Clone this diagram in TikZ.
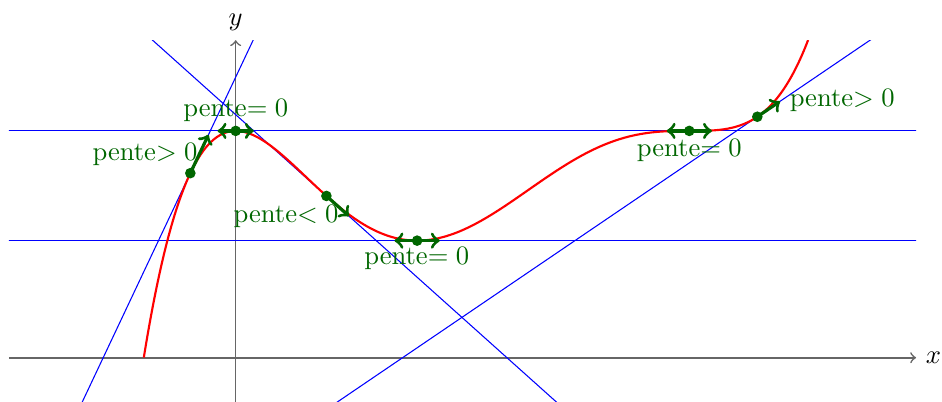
\documentclass[tikz,border=0pt]{standalone}
\usetikzlibrary{calc}
\definecolor{dgreen}{rgb}{0,0.4,0}
\begin{document}
\begin{tikzpicture}[x=0.6cm,y=0.6cm,
  axis/.style={black!60,line width=0.6pt,->},
  tangent/.style={blue,line width=0.4pt},
  courbe/.style={red,line width=0.8pt},
  vecteur/.style={dgreen,line width=1.2pt,->},
  vecteurdouble/.style={dgreen,line width=1.2pt,<->},
  pt/.style={fill=dgreen},
  lab/.style={text=dgreen,inner sep=0pt}]
\useasboundingbox (-5.196,-0.955) rectangle (15.571,7.886);
% points of tangency
\coordinate (A) at (-1,4.0683);
\coordinate (B) at (0,5);
\coordinate (C) at (2,3.5664);
\coordinate (D) at (4,2.5808);
\coordinate (E) at (10,5);
\coordinate (F) at (11.5,5.3124);
% axes
\coordinate (xs) at (-5,0);
\coordinate (xe) at (15,0);
\coordinate (ys) at (0,-1);
\coordinate (ye) at (0,7);
\draw[axis] (xs) -- (xe) node[right,black] {$x$};
\draw[axis] (ys) -- (ye) node[above,black] {$y$};
% tangents
\begin{scope}
\clip (-5,-1) rectangle (15,7);
\draw[tangent] ($(A)+(-10,-21.175)$) -- ($(A)+(10,21.175)$);
\draw[tangent] ($(B)+(-6,0)$) -- ($(B)+(16,0)$);
\draw[tangent] ($(C)+(-10,8.96)$) -- ($(C)+(14,-12.544)$);
\draw[tangent] ($(D)+(-10,0)$) -- ($(D)+(12,0)$);
\draw[tangent] ($(F)+(-17,-11.5467)$) -- ($(F)+(5,3.3961)$);
\draw[courbe] plot[domain=-2.026:12.62,samples=200,smooth]
  (\x,{70*(\x/10)*(\x/10)*(\x/10-1)*(\x/10-1)*(\x/10-1)+5});
\end{scope}
% slope vectors
\draw[vecteur] (A) -- ($(A)+(0.4,0.847)$);
\draw[vecteurdouble] ($(B)+(-0.4,0)$) -- ($(B)+(0.4,0)$);
\draw[vecteur] (C) -- ($(C)+(0.5,-0.448)$);
\draw[vecteurdouble] ($(D)+(-0.5,0)$) -- ($(D)+(0.5,0)$);
\draw[vecteurdouble] ($(E)+(-0.5,0)$) -- ($(E)+(0.5,0)$);
\draw[vecteur] (F) -- ($(F)+(0.5,0.3396)$);
\foreach \p in {A,B,C,D,E,F} \fill[pt] (\p) circle (2pt);
% labels
\node[lab] (LA) at (-2.0,4.47) {pente$>0$};
\node[lab] (LB) at (0,5.46) {pente$=0$};
\node[lab] (LC) at (1.11,3.12) {pente$<0$};
\node[lab] (LD) at (3.99,2.18) {pente$=0$};
\node[lab] (LE) at (10.0,4.575) {pente$=0$};
\node[lab] (LF) at (13.37,5.68) {pente$>0$};
\end{tikzpicture}
\end{document}
